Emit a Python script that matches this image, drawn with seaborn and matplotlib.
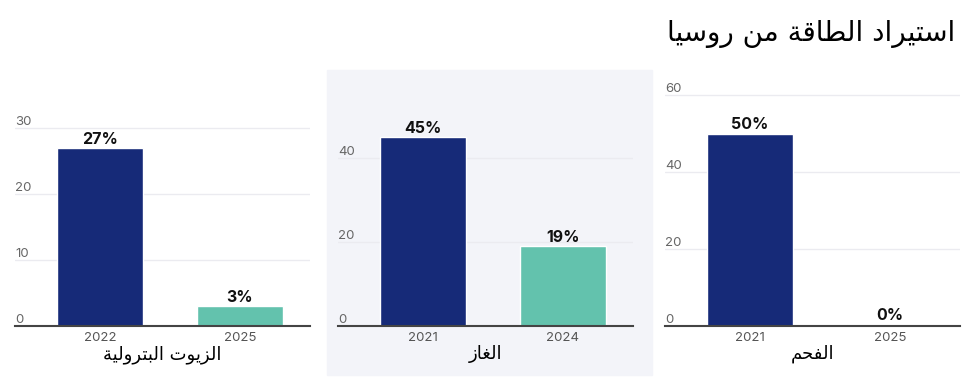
import matplotlib
matplotlib.use("Agg")
import matplotlib.pyplot as plt
import seaborn as sns
import pandas as pd
from matplotlib.patches import Rectangle
from matplotlib.transforms import blended_transform_factory

# data
titulo = "استيراد الطاقة من روسيا"
fontes = ["الزيوت البترولية", "الغاز", "الفحم"]
anos = [["2022", "2025"], ["2021", "2024"], ["2021", "2025"]]
valores = [[27, 3], [45, 19], [50, 0.4]]
rotulos = [["27%", "3%"], ["45%", "19%"], ["50%", "0%"]]
ticks_y = [[0, 10, 20, 30], [0, 20, 40], [0, 20, 40, 60]]
ylims = [36.5, 57.4, 62.6]

cores = ["#162a78", "#63c2ad"]

# matplotlib nao faz "shaping" do arabe, entao usamos formas de apresentacao
formas = {
    "ا": ("\ufe8d", "\ufe8e"), "د": ("\ufea9", "\ufeaa"), "ر": ("\ufead", "\ufeae"),
    "ز": ("\ufeaf", "\ufeb0"), "و": ("\ufeed", "\ufeee"), "ة": ("\ufe93", "\ufe94"),
    "ب": ("\ufe8f", "\ufe90", "\ufe91", "\ufe92"), "ت": ("\ufe95", "\ufe96", "\ufe97", "\ufe98"),
    "ح": ("\ufea1", "\ufea2", "\ufea3", "\ufea4"), "س": ("\ufeb1", "\ufeb2", "\ufeb3", "\ufeb4"),
    "ط": ("\ufec1", "\ufec2", "\ufec3", "\ufec4"), "غ": ("\ufecd", "\ufece", "\ufecf", "\ufed0"),
    "ف": ("\ufed1", "\ufed2", "\ufed3", "\ufed4"), "ق": ("\ufed5", "\ufed6", "\ufed7", "\ufed8"),
    "ل": ("\ufedd", "\ufede", "\ufedf", "\ufee0"), "م": ("\ufee1", "\ufee2", "\ufee3", "\ufee4"),
    "ن": ("\ufee5", "\ufee6", "\ufee7", "\ufee8"), "ي": ("\ufef1", "\ufef2", "\ufef3", "\ufef4"),
}


def arabe(texto):
    saida = []
    for i, c in enumerate(texto):
        if c not in formas:
            saida.append(c)
            continue
        ant = texto[i - 1] if i > 0 else " "
        prox = texto[i + 1] if i + 1 < len(texto) else " "
        liga_ant = ant in formas and len(formas[ant]) == 4
        liga_prox = prox in formas and len(formas[c]) == 4
        f = formas[c]
        if liga_ant and liga_prox:
            saida.append(f[3])
        elif liga_ant:
            saida.append(f[1])
        elif liga_prox:
            saida.append(f[2])
        else:
            saida.append(f[0])
    return "".join(saida)[::-1]


sns.set_theme(style="white")
plt.rcParams["font.family"] = ["Inter", "DejaVu Sans"]

fig = plt.figure(figsize=(9.72, 3.8), dpi=100)

# fundo do painel do meio
fig.patches.append(Rectangle((327 / 972, 5 / 380), 325 / 972, 305 / 380,
                             transform=fig.transFigure, color="#f3f4f9", zorder=-1))

esquerdas = [15, 338, 665]
for i in range(3):
    ax = fig.add_axes([esquerdas[i] / 972, 54 / 380, 295 / 972, 241 / 380])
    ax.patch.set_alpha(0)
    df = pd.DataFrame({"ano": anos[i], "valor": valores[i]})
    sns.barplot(data=df, x="ano", y="valor", hue="ano", palette=cores,
                saturation=1, width=0.61, legend=False, ax=ax, zorder=3)
    ax.set_xlim(-0.607, 1.5)
    ax.set_ylim(0, ylims[i])
    for s in ["top", "right", "left"]:
        ax.spines[s].set_visible(False)
    ax.spines["bottom"].set_color("#444444")
    ax.spines["bottom"].set_linewidth(1.5)
    ax.spines["bottom"].set_zorder(5)

    ax.set_yticks(ticks_y[i])
    ax.set_yticklabels([])
    ax.tick_params(axis="y", length=0)
    ax.yaxis.grid(True, color="#ebebf0", linewidth=1)
    trans = blended_transform_factory(ax.transAxes, ax.transData)
    for t in ticks_y[i]:
        ax.text(0, t, str(t), transform=trans, ha="left", va="bottom",
                fontsize=9.5, color="#666666")

    ax.tick_params(axis="x", length=0, pad=4, labelsize=9.5, labelcolor="#555555")
    ax.set_xlabel(arabe(fontes[i]), fontsize=13, color="black",
                  family="DejaVu Sans", labelpad=1)
    ax.set_ylabel("")

    for j, v in enumerate(valores[i]):
        ax.text(j, v + ylims[i] * 0.005, rotulos[i][j], ha="center", va="bottom",
                fontsize=11.5, fontweight="bold", color="#111111")

fig.text(955 / 972, 1 - 34 / 380, arabe(titulo), ha="right", va="center",
         fontsize=20, color="black", family="DejaVu Sans")

plt.savefig("out.png", dpi=100)
